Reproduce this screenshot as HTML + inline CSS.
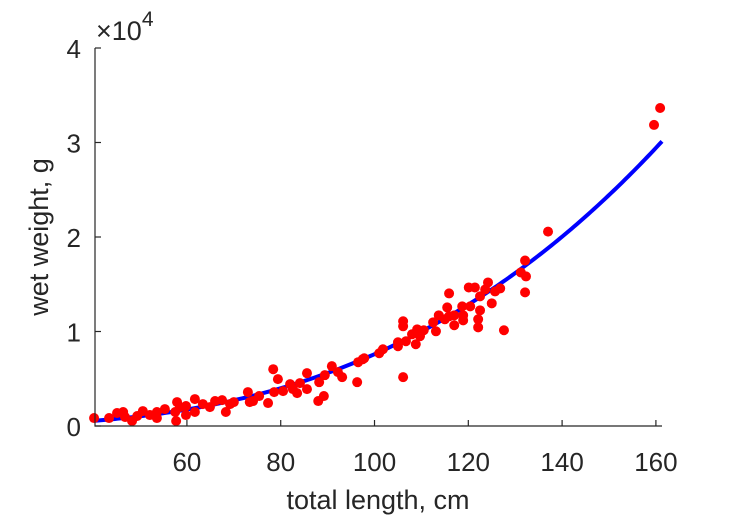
<!DOCTYPE html>
<html><head><meta charset="utf-8"><style>
html,body{margin:0;padding:0;background:#fff;}
svg{display:block;font-family:"Liberation Sans",sans-serif;}
</style></head><body>
<svg id="chart" width="729" height="521" viewBox="0 0 729 521" xmlns="http://www.w3.org/2000/svg">
<g id="plot"></g>
<g id="axes"></g>
<text x="96" y="40" font-size="27" fill="#262626">×10<tspan font-size="21" dy="-14">4</tspan></text>
<text x="378" y="509" font-size="27" fill="#262626" text-anchor="middle">total length, cm</text>
<text transform="translate(48,237) rotate(-90)" font-size="27" fill="#262626" text-anchor="middle">wet weight, g</text>
</svg>
<script>
const lengths=[40.2,43.4,45.1,46.4,46.8,48.3,49.4,50.6,52.1,53.6,53.6,55.3,57.5,57.7,57.9,58.5,59.8,59.8,61.7,61.7,63.4,64.9,66.0,67.5,68.3,69.2,70.0,73.0,73.4,74.1,75.4,77.3,78.4,79.4,78.6,80.5,82.0,82.6,83.5,84.1,85.6,85.6,88.0,89.2,88.2,89.4,90.9,92.2,93.1,96.3,96.5,97.8,101.0,97.5,101.8,105.0,105.0,106.1,106.1,106.1,106.7,108.0,108.8,109.1,109.7,110.5,112.5,113.1,113.7,115.0,115.5,115.9,115.9,117.0,117.0,118.7,118.9,118.9,120.1,120.4,121.4,122.1,122.1,122.5,122.5,123.6,124.2,125.0,125.7,126.8,127.6,131.2,132.1,132.3,132.1,137.0,159.6,160.9];
const weights=[840,840,1370,1480,950,530,1060,1580,1160,1480,840,1790,1480,530,2530,2000,2110,1160,2850,1480,2320,2000,2640,2740,1480,2320,2530,3590,2530,2640,3170,2430,6010,4960,3590,3690,4430,3900,3480,4540,3900,5590,2640,3170,4640,5380,6330,5700,5170,4640,6750,7170,7700,7070,8120,8860,8440,11080,10550,5170,8970,9710,8650,10230,9500,10130,10970,10020,11710,11290,12550,14030,11610,10660,11710,12660,11710,11180,14660,12660,14660,11290,10440,13720,12240,14450,15190,12980,14240,14560,10130,16250,17510,15830,14140,20570,31860,33650];
const xTicks=[60,80,100,120,140,160];
const yTicks=[0,1,2,3,4];
const fitA=0.01321, fitB=2.88;
const xMin=40.4,xMax=161.3,yMax=40000;
const L=95,R=662,T=48,B=426;
const sx=v=>L+(v-xMin)/(xMax-xMin)*(R-L);
const sy=v=>B-v/yMax*(B-T);
const NS="http://www.w3.org/2000/svg";
const plot=document.getElementById('plot'),axes=document.getElementById('axes');
function mk(tag,attrs,parent){const e=document.createElementNS(NS,tag);for(const k in attrs)e.setAttribute(k,attrs[k]);parent.appendChild(e);return e;}
let d='';
for(let i=0;i<=200;i++){const x=xMin+(xMax-xMin)*i/200;const y=fitA*Math.pow(x,fitB);d+=(i?'L':'M')+sx(x).toFixed(2)+','+sy(y).toFixed(2);}
const fit=mk('path',{d:d,fill:'none',stroke:'#0000ff','stroke-width':4},plot);


for(let i=0;i<lengths.length;i++){
 const c=mk('circle',{cx:sx(lengths[i]),cy:sy(weights[i]),r:5,fill:'#ff0000'},plot);
 
 
}
const ax=mk('path',{d:`M${L},${T}V${B}H${R}`,fill:'none',stroke:'#262626','stroke-width':1.2},axes);


xTicks.forEach(t=>{
 const x=sx(t);
 const tk=mk('line',{x1:x,x2:x,y1:B,y2:B-6,stroke:'#262626','stroke-width':1.2},axes);
 
 
 const tx=mk('text',{x:x,y:B+45,'font-size':26,fill:'#262626','text-anchor':'middle'},axes);
 tx.textContent=t;
 
 
});
yTicks.forEach(t=>{
 const y=sy(t*10000);
 const tk=mk('line',{x1:L,x2:L+6,y1:y,y2:y,stroke:'#262626','stroke-width':1.2},axes);
 
 
 const tx=mk('text',{x:81,y:y+10,'font-size':26,fill:'#262626','text-anchor':'end'},axes);
 tx.textContent=t;
 
 
});
</script>
</body></html>
